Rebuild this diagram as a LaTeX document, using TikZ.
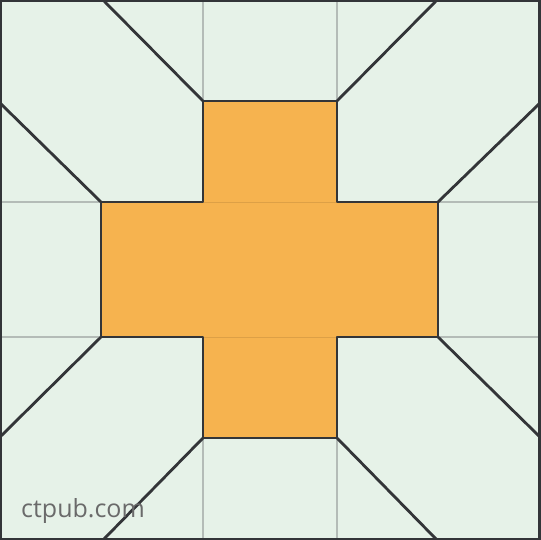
\documentclass[tikz,border=0pt]{standalone}
\usepackage{fontspec}
\setmainfont{Open Sans}
\definecolor{bgmint}{HTML}{E6F2E8}
\definecolor{crossorange}{HTML}{F6B34F}
\definecolor{seamline}{HTML}{333538}
\definecolor{gridgray}{HTML}{B4BCB7}
\definecolor{logogray}{HTML}{6A6A6A}
\tikzset{
  seam/.style={draw=seamline, line width=2.8pt, line cap=round, line join=round},
  gridseam/.style={draw=gridgray, line width=1.8pt},
  innerseam/.style={draw=crossorange!80!black, line width=1pt, opacity=0.5},
}
\begin{document}
\begin{tikzpicture}[x=1pt,y=-1pt]
\useasboundingbox (0,0) rectangle (540,540);
\fill[bgmint] (0,0) rectangle (540,540);
% light grid seams
\draw[gridseam] (203,0) -- (203,101);
\draw[gridseam] (337,0) -- (337,101);
\draw[gridseam] (0,202) -- (101,202);
\draw[gridseam] (0,337) -- (101,337);
\draw[gridseam] (438,202) -- (540,202);
\draw[gridseam] (438,337) -- (540,337);
\draw[gridseam] (203,438) -- (203,540);
\draw[gridseam] (337,438) -- (337,540);
% cross
\fill[crossorange] (203,101) -- (337,101) -- (337,202) -- (438,202) -- (438,337) -- (337,337) -- (337,438) -- (203,438) -- (203,337) -- (101,337) -- (101,202) -- (203,202) -- cycle;
\draw[innerseam] (203,202) -- (337,202);
\draw[innerseam] (203,337) -- (337,337);
\draw[seam] (203,101) -- (337,101) -- (337,202) -- (438,202) -- (438,337) -- (337,337) -- (337,438) -- (203,438) -- (203,337) -- (101,337) -- (101,202) -- (203,202) -- cycle;
% diagonals
\draw[seam] (103,0) -- (203,101);
\draw[seam] (0,103) -- (101,202);
\draw[seam] (437,0) -- (337,101);
\draw[seam] (540,103) -- (438,202);
\draw[seam] (0,437) -- (101,337);
\draw[seam] (103,540) -- (203,438);
\draw[seam] (540,437) -- (438,337);
\draw[seam] (437,540) -- (337,438);
% border
\draw[seamline, line width=4.5pt] (0,0) rectangle (540,540);
\node[text=logogray, font=\fontsize{25}{28}\selectfont, anchor=base west, inner sep=0pt] (logo) at (21,517) {ctpub.com};
\end{tikzpicture}
\end{document}
